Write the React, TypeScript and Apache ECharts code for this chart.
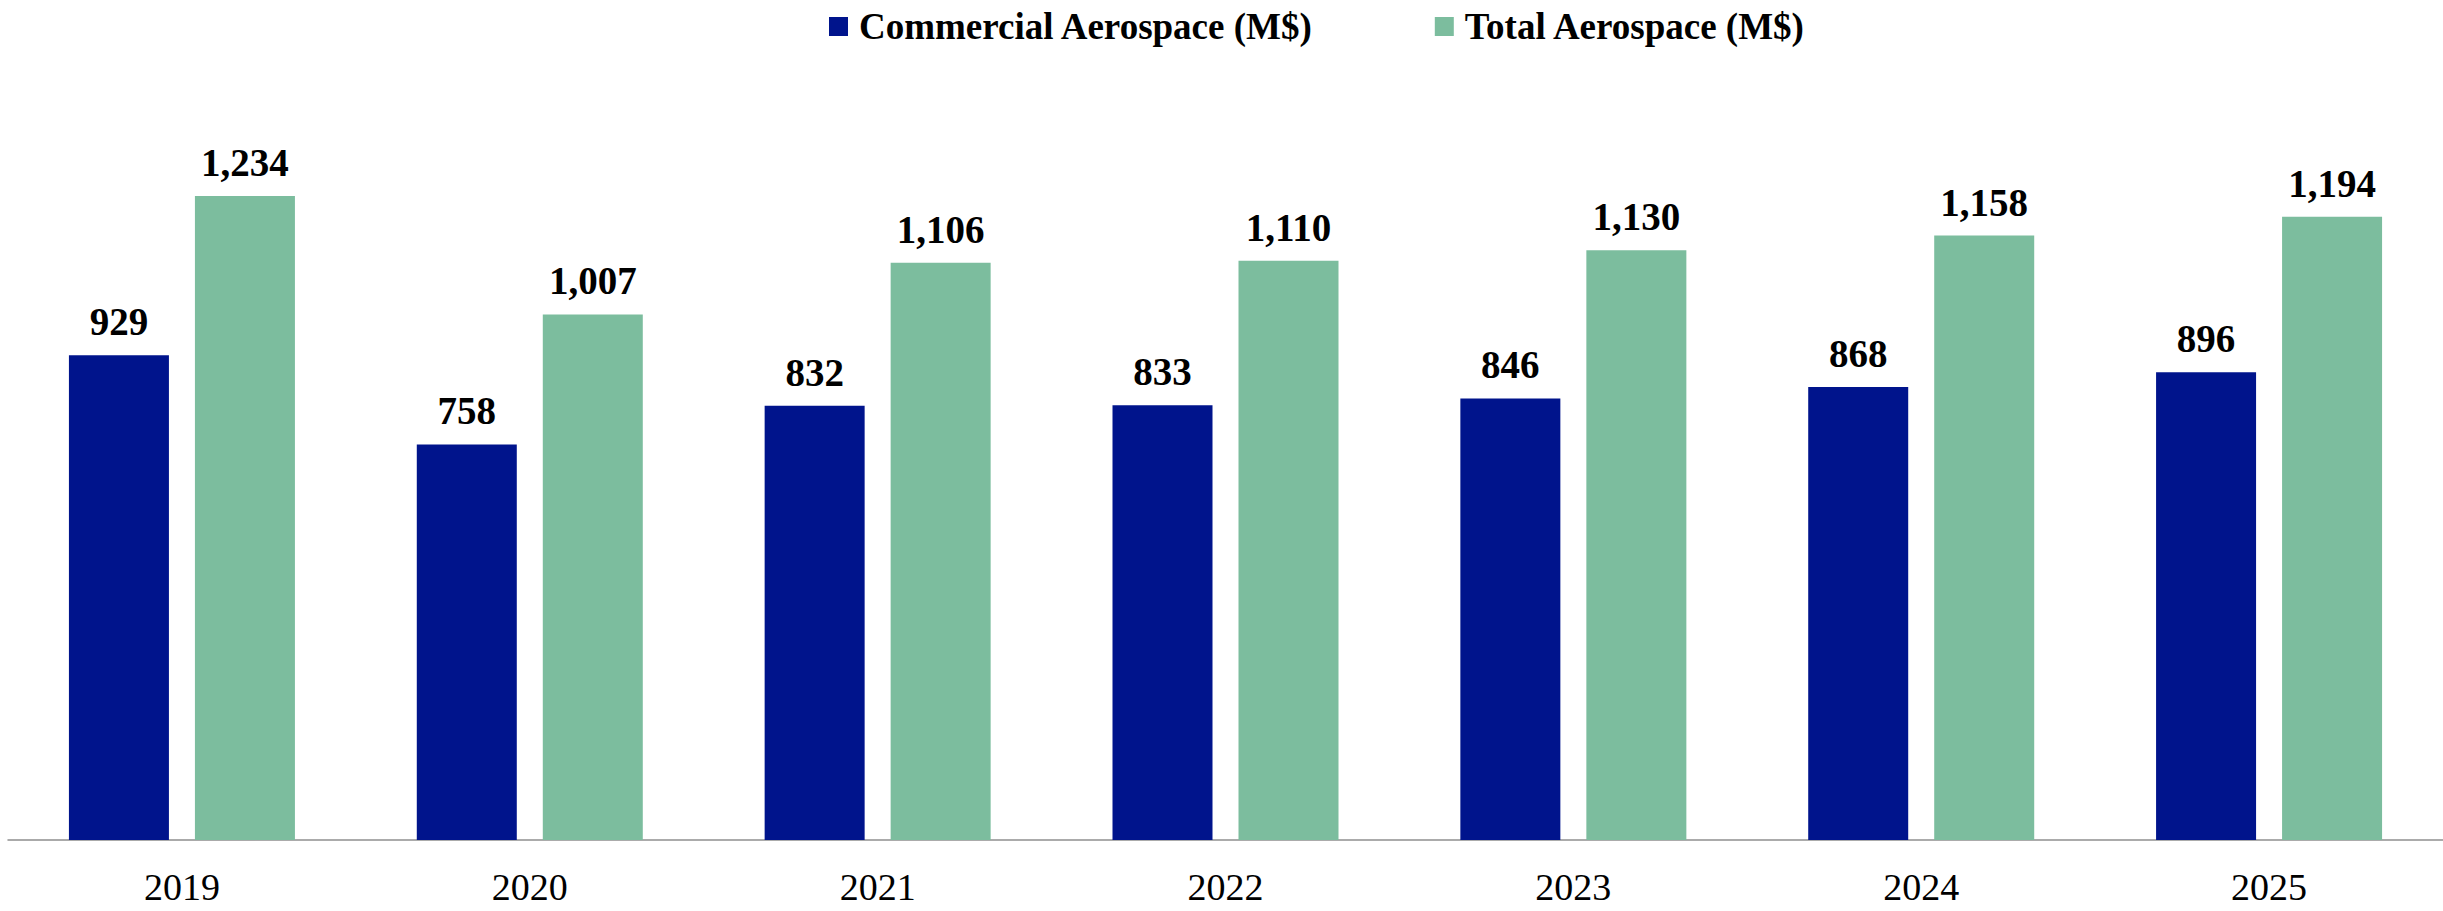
import React, { useEffect, useRef } from "react";
import * as echarts from "echarts";

const years = ["2019", "2020", "2021", "2022", "2023", "2024", "2025"];
const commercial = [929, 758, 832, 833, 846, 868, 896];
const total = [1234, 1007, 1106, 1110, 1130, 1158, 1194];
const seriesNames = ["Commercial Aerospace (M$)", "Total Aerospace (M$)"];

const FONT = "'Liberation Serif', 'DejaVu Serif', serif";

export default function App() {
  const ref = useRef<HTMLDivElement>(null);
  useEffect(() => {
    document.body.style.margin = "0";
    const chart = echarts.init(ref.current!, undefined, { renderer: "svg" });
    const label = {
      show: true,
      position: "top",
      distance: 14,
      fontFamily: FONT,
      fontWeight: "bold",
      fontSize: 39,
      color: "#000",
      formatter: (p: any) => Number(p.value).toLocaleString("en-US"),
    };
    chart.setOption({
      animation: false,
      backgroundColor: "#ffffff",
      legend: {
        left: 824,
        top: 3,
        itemWidth: 19,
        itemHeight: 19,
        itemGap: 121,
        icon: "rect",
        textStyle: {
          fontFamily: FONT,
          fontWeight: "bold",
          fontSize: 37,
          color: "#000",
          padding: [0, 0, 0, 6],
        },
        data: seriesNames,
      },
      grid: { left: 8, width: 2441, top: 109.3, height: 730.7 },
      xAxis: {
        type: "category",
        data: years,
        axisTick: { show: false },
        axisLine: { lineStyle: { color: "#8f8f8f", width: 1.5 } },
        axisLabel: { fontFamily: FONT, fontSize: 38, color: "#000", margin: 28 },
      },
      yAxis: {
        type: "value",
        min: 0,
        max: 1400,
        show: false,
        splitLine: { show: false },
      },
      series: [
        {
          name: seriesNames[0],
          type: "bar",
          data: commercial,
          barWidth: 100,
          barGap: "26%",
          itemStyle: { color: "#00148C" },
          label,
        },
        {
          name: seriesNames[1],
          type: "bar",
          data: total,
          barWidth: 100,
          barGap: "26%",
          itemStyle: { color: "#7CBD9E" },
          label,
        },
      ],
    });
    return () => chart.dispose();
  }, []);
  return (
    <div
      ref={ref}
      style={{ position: "absolute", left: 0, top: 0, width: 2443, height: 911 }}
    />
  );
}
